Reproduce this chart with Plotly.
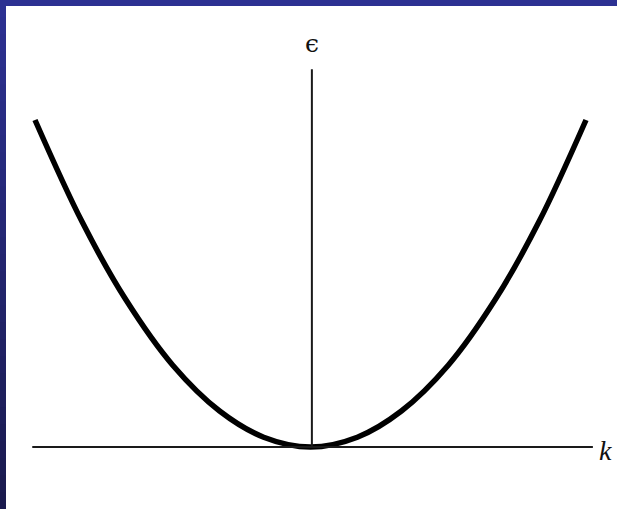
import plotly.graph_objects as go

# Values (wave vector k vs energy epsilon)
k_vals = [-1.0, -0.83, -0.67, -0.5, -0.33, -0.17, 0.0, 0.17, 0.33, 0.5, 0.67, 0.83, 1.0]
eps_vals = [1.0, 0.69, 0.45, 0.25, 0.11, 0.03, 0.0, 0.03, 0.11, 0.25, 0.45, 0.69, 1.0]
x_axis_extent = [-1.01, 1.025]
y_axis_extent = [0.0, 1.155]
x_label = "k"
y_label = "ϵ"

W, H = 617, 509
fig = go.Figure()

fig.add_trace(go.Scatter(
    x=k_vals, y=eps_vals, mode="lines", line=dict(color="black", width=5.5, shape="spline"),
    hoverinfo="skip", showlegend=False))

# background: blue frame with white panel
shapes = []
top_c = (44, 49, 146)
bot_c = (26, 26, 78)
n = 30
for i in range(n):
    t = i / (n - 1)
    c = tuple(int(round(top_c[j] + (bot_c[j] - top_c[j]) * t)) for j in range(3))
    shapes.append(dict(type="rect", xref="paper", yref="paper",
                       x0=0, x1=1, y0=max(0, 1 - (i + 1) / n - 0.01), y1=1 - i / n,
                       fillcolor="rgb(%d,%d,%d)" % c, line=dict(width=0), layer="below"))
shapes.append(dict(type="rect", xref="paper", yref="paper",
                   x0=6 / W, x1=1, y0=0, y1=1 - 6 / H,
                   fillcolor="white", line=dict(width=0), layer="below"))
# axes lines
shapes.append(dict(type="line", xref="x", yref="y", x0=x_axis_extent[0], x1=x_axis_extent[1],
                   y0=0, y1=0, line=dict(color="#1a1a1a", width=2)))
shapes.append(dict(type="line", xref="x", yref="y", x0=0.005, x1=0.005,
                   y0=y_axis_extent[0], y1=y_axis_extent[1], line=dict(color="#1a1a1a", width=2)))

annotations = [
    dict(x=0.005, y=1.235, xref="x", yref="y", text=y_label, showarrow=False,
         font=dict(family="DejaVu Serif", size=25, color="#111")),
    dict(x=1.07, y=-0.01, xref="x", yref="y", text="<i>%s</i>" % x_label, showarrow=False,
         font=dict(family="Liberation Serif", size=28, color="#111")),
]

cx, sx = 310.5, 275.5
vy, sy = 447.0, 327.0
fig.update_layout(
    width=W, height=H, margin=dict(l=0, r=0, t=0, b=0),
    paper_bgcolor="white", plot_bgcolor="rgba(0,0,0,0)",
    xaxis=dict(range=[(0 - cx) / sx, (W - cx) / sx], visible=False, fixedrange=True),
    yaxis=dict(range=[(vy - H) / sy, vy / sy], visible=False, fixedrange=True),
    shapes=shapes, annotations=annotations, showlegend=False,
)

fig.write_html("out.html", config={"displayModeBar": False},
               post_script="document.body.style.margin='0';document.body.style.overflow='hidden';")
